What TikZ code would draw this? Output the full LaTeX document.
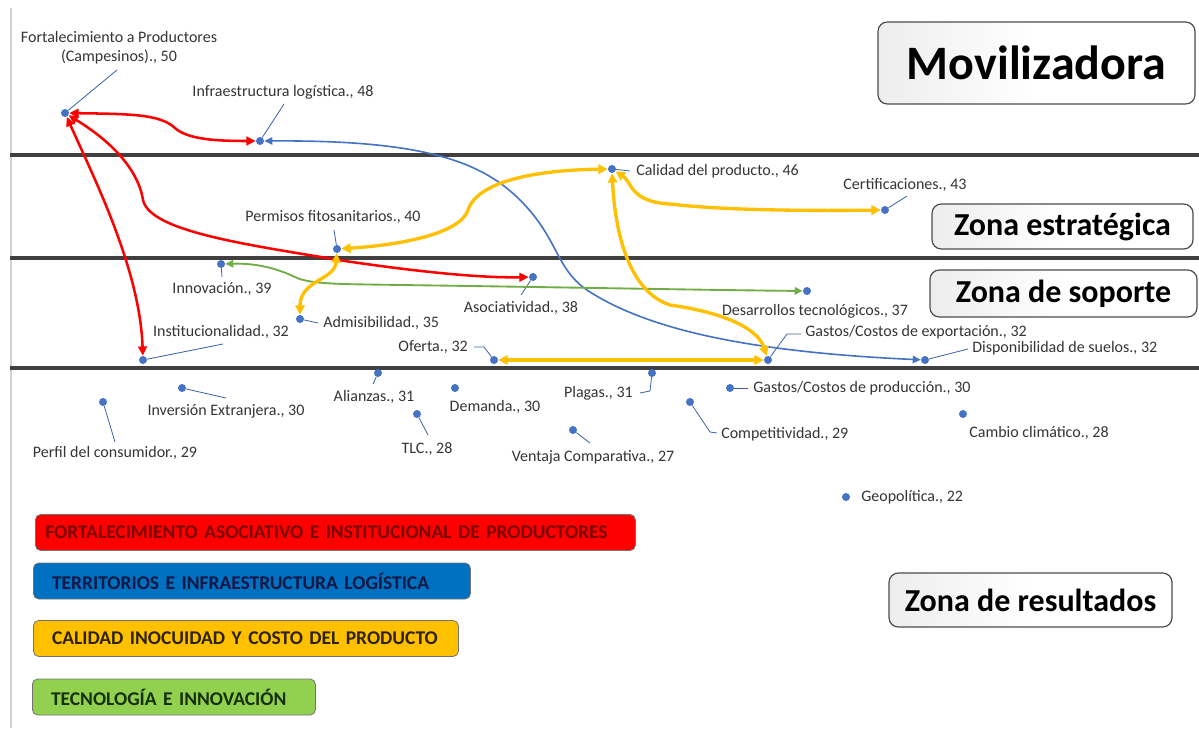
\documentclass[tikz,border=0pt]{standalone}
\usepackage{fontspec}
\setmainfont{Carlito}
\newfontfamily\legfont{Carlito}[WordSpace=0.65]
\usetikzlibrary{arrows.meta}
\definecolor{ptblue}{HTML}{4472C4}
\definecolor{lbl}{HTML}{353535}
\definecolor{ared}{HTML}{FF0000}
\definecolor{ablue}{HTML}{4472C4}
\definecolor{ayel}{HTML}{FFC000}
\definecolor{agreen}{HTML}{70AD47}
\definecolor{lgred}{HTML}{FF0000}
\definecolor{lgredtx}{HTML}{7A0000}
\definecolor{lgblue}{HTML}{0070C0}
\definecolor{lgbluetx}{HTML}{141844}
\definecolor{lgyel}{HTML}{FFC000}
\definecolor{lgyeltx}{HTML}{2E2200}
\definecolor{lggreen}{HTML}{92D050}
\definecolor{lggreentx}{HTML}{16300A}
\tikzset{
  dot/.style={circle, fill=ptblue, inner sep=0pt, minimum size=6pt},
  lab/.style={text=lbl, font=\fontsize{12}{14.4}\selectfont, inner sep=0pt},
  lead/.style={draw=ptblue!85!black, line width=0.6pt},
  hline/.style={draw=black!75, line width=2.3pt},
  zone/.style={draw=black!70, line width=0.9pt, rounded corners=7pt, fill=white,
     left color=black!7, right color=white, middle color=white,
     font=\bfseries, text=black, inner sep=0pt},
  legbox/.style={draw=black!55, line width=0.6pt, rounded corners=4pt,
     font=\legfont\bfseries\fontsize{14.6}{16}\selectfont, align=left, inner ysep=0pt,
     minimum height=27pt},
  redarr/.style={draw=ared, line width=1.9pt,
     {Triangle[length=7pt,width=6.5pt]}-{Triangle[length=7pt,width=6.5pt]}},
  bluearr/.style={draw=ablue, line width=1.2pt,
     {Triangle[length=6pt,width=5.5pt]}-{Triangle[length=6pt,width=5.5pt]}},
  yelarr/.style={draw=ayel, line width=2.5pt,
     {Triangle[length=7pt,width=7pt]}-{Triangle[length=7pt,width=7pt]}},
  grnarr/.style={draw=agreen, line width=1.4pt,
     {Triangle[length=6pt,width=5.5pt]}-{Triangle[length=6pt,width=5.5pt]}},
}
\begin{document}
\begin{tikzpicture}[x=0.75pt,y=-0.75pt]
\useasboundingbox (0,0) rectangle (1199,728);
\fill[white] (0,0) rectangle (1199,728);
% frame and zone lines
\coordinate (fr1) at (11,8); \coordinate (fr2) at (11,728);
\draw[black!18, line width=0.8pt] (fr1) -- (fr2);
\coordinate (h1a) at (10,155); \coordinate (h1b) at (1199,155);
\coordinate (h2a) at (10,258); \coordinate (h2b) at (1199,258);
\coordinate (h3a) at (10,368); \coordinate (h3b) at (1199,368);
\draw[hline] (h1a) -- (h1b);
\draw[hline] (h2a) -- (h2b);
\draw[hline] (h3a) -- (h3b);

% zone boxes
\node[zone, minimum width=237.75pt, minimum height=61.5pt, font=\bfseries\fontsize{36}{40}\selectfont] (zmov) at (1036.5,63) {Movilizadora};
\node[zone, minimum width=195.75pt, minimum height=33.75pt, font=\bfseries\fontsize{24}{28}\selectfont] (zest) at (1062.5,226.5) {Zona estratégica};
\node[zone, minimum width=200.25pt, minimum height=35.25pt, font=\bfseries\fontsize{24}{28}\selectfont] (zsop) at (1063.5,293.5) {Zona de soporte};
\node[zone, minimum width=212.25pt, minimum height=40.5pt, font=\bfseries\fontsize{24}{28}\selectfont] (zres) at (1030.5,600) {Zona de resultados};

% dots
\node[dot] (fort) at (65,113) {};
\node[dot] (infra) at (260,141) {};
\node[dot] (cal) at (612,169) {};
\node[dot] (cert) at (885,210) {};
\node[dot] (perm) at (337,249) {};
\node[dot] (innov) at (221,264) {};
\node[dot] (asoc) at (533,277) {};
\node[dot] (desa) at (807,291) {};
\node[dot] (admis) at (300,319) {};
\node[dot] (inst) at (143,360) {};
\node[dot] (ofer) at (494,360) {};
\node[dot] (gexp) at (768,360) {};
\node[dot] (dispo) at (925,360) {};
\node[dot] (alian) at (378,373) {};
\node[dot] (inver) at (182,388) {};
\node[dot] (perfil) at (103,402) {};
\node[dot] (deman) at (455,388) {};
\node[dot] (tlc) at (417,414) {};
\node[dot] (plag) at (652,373) {};
\node[dot] (gprod) at (730,388) {};
\node[dot] (compet) at (690,402) {};
\node[dot] (venta) at (573,430) {};
\node[dot] (camb) at (963,414) {};
\node[dot] (geo) at (846,497) {};

% labels
\node[lab, align=center] (lfort) at (119,47.5) {Fortalecimiento a Productores\\(Campesinos)., 50};
\node[lab] (linfra) at (283,92) {Infraestructura logística., 48};
\node[lab, anchor=west] (lcal) at (636,171) {Calidad del producto., 46};
\node[lab] (lcert) at (905,185) {Certificaciones., 43};
\node[lab] (lperm) at (333,217) {Permisos fitosanitarios., 40};
\node[lab] (linnov) at (222,289) {Innovación., 39};
\node[lab] (lasoc) at (521,308) {Asociatividad., 38};
\node[lab] (ldesa) at (815,311) {Desarrollos tecnológicos., 37};
\node[lab, anchor=west] (ladmis) at (323,323) {Admisibilidad., 35};
\node[lab] (linst) at (221,332) {Institucionalidad., 32};
\node[lab, anchor=east] (lofer) at (468,347) {Oferta., 32};
\node[lab, anchor=west] (lgexp) at (805,332) {Gastos/Costos de exportación., 32};
\node[lab, anchor=west] (ldispo) at (972,348) {Disponibilidad de suelos., 32};
\node[lab] (lalian) at (374,397) {Alianzas., 31};
\node[lab] (linver) at (226,411) {Inversión Extranjera., 30};
\node[lab] (lperfil) at (115,453) {Perfil del consumidor., 29};
\node[lab] (ldeman) at (495,407) {Demanda., 30};
\node[lab] (ltlc) at (427,449) {TLC., 28};
\node[lab, anchor=east] (lplag) at (633,393) {Plagas., 31};
\node[lab, anchor=west] (lgprod) at (753,388) {Gastos/Costos de producción., 30};
\node[lab, anchor=west] (lcompet) at (721,434) {Competitividad., 29};
\node[lab] (lventa) at (593,457) {Ventaja Comparativa., 27};
\node[lab] (lcamb) at (1039,433) {Cambio climático., 28};
\node[lab, anchor=west] (lgeo) at (861,497) {Geopolítica., 22};

% leader lines
\coordinate (kfort) at (117,70);
\coordinate (kinfra) at (284,104);
\coordinate (kcal) at (630,171);
\coordinate (kcert) at (907,196);
\coordinate (kperm) at (334,230);
\coordinate (kinnov) at (222,277);
\coordinate (kasoc) at (521,295);
\coordinate (kadmis) at (318,323);
\coordinate (kinst) at (223,344);
\coordinate (kofer1) at (484,347); \coordinate (kofer2) at (474,347);
\coordinate (kgexp1) at (787,334); \coordinate (kgexp2) at (801,334);
\coordinate (kdispo) at (968,349);
\coordinate (kalian) at (373,384);
\coordinate (kinver) at (226,398);
\coordinate (kperfil) at (115,442);
\coordinate (ktlc) at (428,435);
\coordinate (kplag1) at (650,391); \coordinate (kplag2) at (640,393);
\coordinate (kgprod) at (748,388);
\coordinate (kcomp1) at (710,432); \coordinate (kcomp2) at (717,433);
\coordinate (kventa) at (590,443);
\draw[lead] (fort) -- (kfort);
\draw[lead] (infra) -- (kinfra);
\draw[lead] (cal) -- (kcal);
\draw[lead] (cert) -- (kcert);
\draw[lead] (perm) -- (kperm);
\draw[lead] (innov) -- (kinnov);
\draw[lead] (asoc) -- (kasoc);
\draw[lead] (admis) -- (kadmis);
\draw[lead] (inst) -- (kinst);
\draw[lead] (ofer) -- (kofer1) -- (kofer2);
\draw[lead] (gexp) -- (kgexp1) -- (kgexp2);
\draw[lead] (dispo) -- (kdispo);
\draw[lead] (alian) -- (kalian);
\draw[lead] (inver) -- (kinver);
\draw[lead] (perfil) -- (kperfil);
\draw[lead] (tlc) -- (ktlc);
\draw[lead] (plag) -- (kplag1) -- (kplag2);
\draw[lead] (gprod) -- (kgprod);
\draw[lead] (compet) -- (kcomp1) -- (kcomp2);
\draw[lead] (venta) -- (kventa);

% blue connector
\draw[bluearr] (infra) .. controls (420,140) and (480,160) .. (520,200)
   .. controls (560,240) and (555,270) .. (590,292)
   .. controls (650,330) and (750,352) .. (dispo);
% green connector
\draw[grnarr] (innov) .. controls (260,263) and (280,270) .. (295,277)
   .. controls (310,285) and (350,284) .. (400,285)
   .. controls (550,287) and (700,290) .. (desa);
% red connectors
\draw[redarr] (fort) .. controls (130,114) and (160,114) .. (175,128)
   .. controls (188,140) and (220,141) .. (infra);
\draw[redarr] (fort) .. controls (95,180) and (140,270) .. (inst);
\draw[redarr] (fort) .. controls (125,150) and (140,180) .. (143,200)
   .. controls (150,232) and (250,245) .. (345,261)
   .. controls (420,272) and (480,278) .. (asoc);
% yellow connectors
\draw[yelarr] (perm) .. controls (400,245) and (460,234) .. (468,210)
   .. controls (478,180) and (540,170) .. (cal);
\draw[yelarr] (perm) .. controls (335,280) and (300,280) .. (admis);
\draw[yelarr] (cal) .. controls (632,182) and (630,202) .. (670,204)
   .. controls (720,210) and (800,211) .. (cert);
\draw[yelarr] (cal) .. controls (615,235) and (630,292) .. (670,305)
   .. controls (740,315) and (760,335) .. (gexp);
\draw[yelarr] (ofer) -- (gexp);

% legend
\node[legbox, fill=lgred, text=lgredtx, anchor=west, inner xsep=7.5pt, text width=435pt] (lg1) at (35,532.5) {FORTALECIMIENTO ASOCIATIVO E INSTITUCIONAL DE PRODUCTORES};
\node[legbox, fill=lgblue, text=lgbluetx, anchor=west, inner xsep=14pt, text width=299.75pt] (lg2) at (33,581) {TERRITORIOS E INFRAESTRUCTURA LOGÍSTICA};
\node[legbox, fill=lgyel, text=lgyeltx, anchor=west, inner xsep=14pt, text width=290.75pt] (lg3) at (33,638.5) {CALIDAD INOCUIDAD Y COSTO DEL PRODUCTO};
\node[legbox, fill=lggreen, text=lggreentx, anchor=west, inner xsep=14pt, text width=184.25pt] (lg4) at (32,697) {TECNOLOGÍA E INNOVACIÓN};
\end{tikzpicture}
\end{document}
